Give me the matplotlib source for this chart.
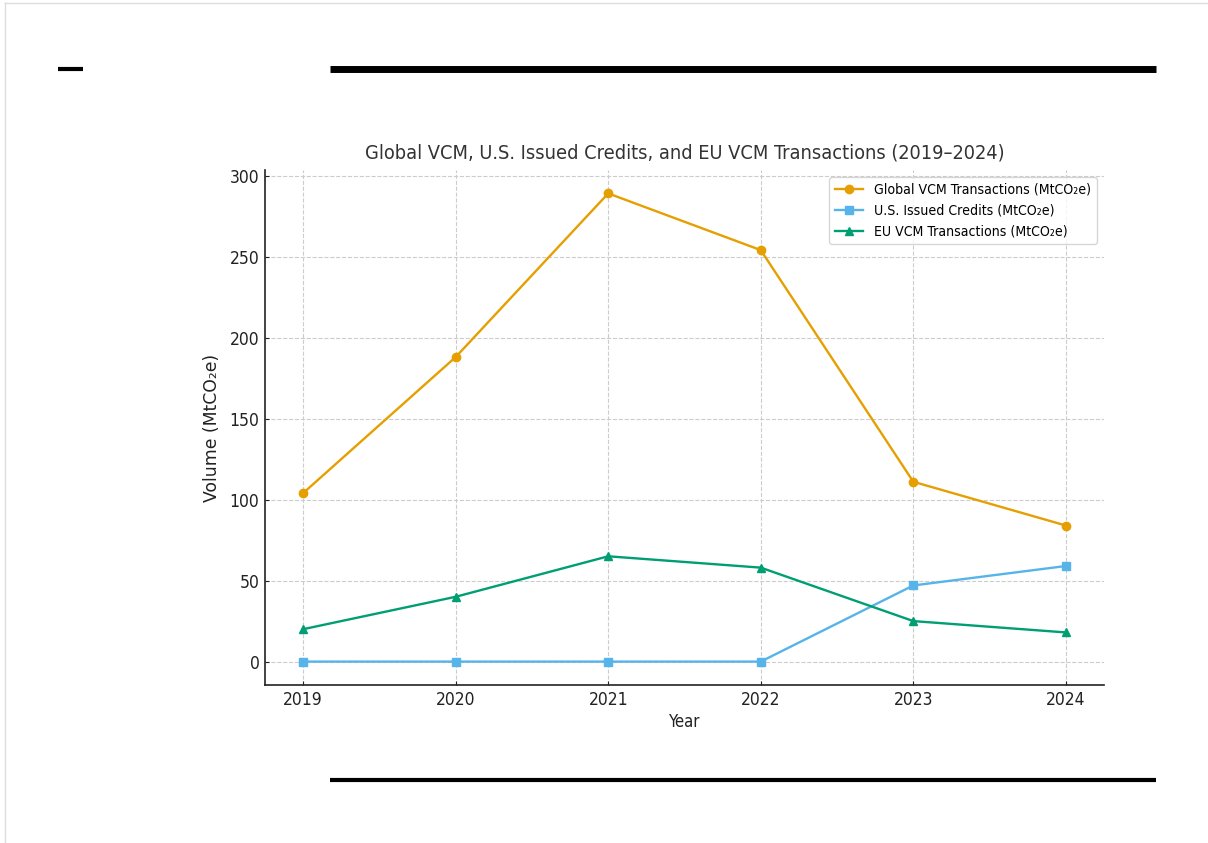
import matplotlib
matplotlib.use("Agg")
import matplotlib.pyplot as plt
from matplotlib.lines import Line2D

years = [2019, 2020, 2021, 2022, 2023, 2024]
global_vcm = [104, 188, 289, 254, 111, 84]
us_issued = [0, 0, 0, 0, 47, 59]
eu_vcm = [20, 40, 65, 58, 25, 18]

labels = ["Global VCM Transactions (MtCO₂e)",
          "U.S. Issued Credits (MtCO₂e)",
          "EU VCM Transactions (MtCO₂e)"]
colors = ["#E69F00", "#56B4E9", "#009E73"]

plt.rcParams['font.family'] = ['DejaVu Sans']
plt.rcParams['font.stretch'] = 'condensed'

W, H = 1208, 843
fig = plt.figure(figsize=(W / 100, H / 100), dpi=100)
ax = fig.add_axes([265 / W, 1 - 685 / H, (1104 - 265) / W, (685 - 170) / H])

ax.plot(years, global_vcm, marker='o', color=colors[0], label=labels[0], lw=1.7, ms=6)
ax.plot(years, us_issued, marker='s', color=colors[1], label=labels[1], lw=1.7, ms=6)
ax.plot(years, eu_vcm, marker='^', color=colors[2], label=labels[2], lw=1.7, ms=6)

ax.set_xticks(years)
ax.set_yticks([0, 50, 100, 150, 200, 250, 300])
ax.tick_params(labelsize=12.5, colors='#222222', length=3, direction='in', pad=4)
ax.grid(True, linestyle='--', color='#cccccc', linewidth=0.8)
ax.spines['top'].set_visible(False)
ax.spines['right'].set_visible(False)
for s in ['left', 'bottom']:
    ax.spines[s].set_linewidth(1.2)
    ax.spines[s].set_color('#222222')

ax.set_title("Global VCM, U.S. Issued Credits, and EU VCM Transactions (2019–2024)",
             fontsize=14.3, color='#333333', pad=8.5)
ax.set_xlabel("Year", fontsize=12, color='#222222', labelpad=3.5)
ax.set_ylabel("Volume (MtCO₂e)", fontsize=12.4, color='#222222', labelpad=6,
              fontstretch='normal')
ax.legend(loc='upper right', fontsize=10.1, frameon=True, edgecolor='#cccccc')

def pxline(x0, y0, x1, y1, lw, color='black'):
    fig.add_artist(Line2D([x0 / W, x1 / W], [1 - y0 / H, 1 - y1 / H],
                          transform=fig.transFigure, color=color, lw=lw,
                          solid_capstyle='butt'))

pxline(58, 68.5, 83, 68.5, 3)
pxline(330, 68.5, 1156, 68.5, 5)
pxline(330, 780, 1156, 780, 3)
pxline(4.5, 2, 4.5, H, 1, '#dddddd')
pxline(4, 2.5, W, 2.5, 1, '#dddddd')

fig.savefig("out.png", dpi=100)
